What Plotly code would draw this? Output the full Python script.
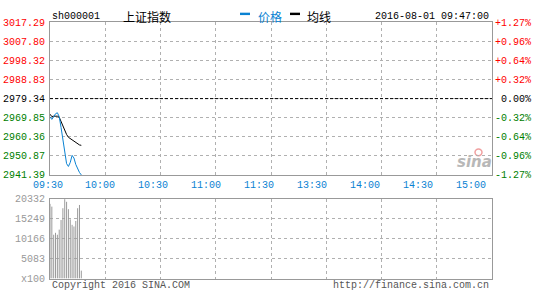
import plotly.graph_objects as go

# ---------------- data ----------------
prev_close = 2979.34
price_ticks = [3017.29, 3007.80, 2998.32, 2988.83, 2979.34, 2969.85, 2960.36, 2950.87, 2941.39]
pct_labels = ["+1.27%", "+0.96%", "+0.64%", "+0.32%", "\u00a00.00%", "-0.32%", "-0.64%", "-0.96%", "-1.27%"]
time_labels = ["09:30", "10:00", "10:30", "11:00", "11:30", "13:30", "14:00", "14:30", "15:00"]
vol_ticks = [20332, 15249, 10166, 5083, 0]
vol_tick_labels = ["20332", "15249", "10166", "5083", "x100"]

minutes = list(range(18))  # 09:30 .. 09:47
price = [2970.3, 2969.0, 2970.3, 2971.8, 2972.3, 2970.4, 2965.0, 2959.0, 2951.5, 2947.0,
         2945.6, 2947.6, 2951.1, 2949.8, 2946.6, 2944.5, 2942.6, 2941.4]
avg_line = [2971.6, 2970.4, 2970.6, 2970.6, 2970.6, 2970.1, 2967.7, 2965.4, 2963.2, 2961.5,
            2960.1, 2959.4, 2958.7, 2958.2, 2957.7, 2957.0, 2956.3, 2956.1]
volume = [19000, 18300, 11150, 11640, 11150, 12450, 14890, 17890, 20190, 19530,
          17650, 15060, 13670, 13250, 14650, 17890, 18720, 2030]
n_minutes = 241

# ---------------- styling ----------------
W, H = 545, 300
MONO = "Liberation Mono"
RED, GREEN, BLACK = "#ff0000", "#008000", "#000000"
BLUE = "#0a82d2"
GRID = "#b0b0b0"
BORDER = "#999999"

def px_x(p):
    return p / W

def px_y(p):
    return (H - p) / H

x_dom = [px_x(50), px_x(492)]
main_dom = [px_y(177), px_y(18)]
vol_dom = [px_y(285), px_y(201.7)]

def colored(txt, v):
    c = RED if v > prev_close + 1e-6 else (GREEN if v < prev_close - 1e-6 else BLACK)
    return f"<span style='color:{c}'>{txt}</span>"

price_text = [colored(f"{v:.2f}", v) for v in price_ticks]
pct_vals = [(v - prev_close) / prev_close * 100 for v in price_ticks]
pct_text = [colored(t, v) for t, v in zip(pct_labels, price_ticks)]

# volume drawn as thin vertical sticks
vx, vy = [], []
for m, v in zip(minutes, volume):
    vx += [m, m, None]
    vy += [0, v, None]

fig = go.Figure()
fig.add_trace(go.Scatter(x=minutes, y=avg_line, mode="lines", line=dict(color="black", width=1),
                         xaxis="x", yaxis="y", showlegend=False, hoverinfo="skip"))
fig.add_trace(go.Scatter(x=minutes, y=price, mode="lines", line=dict(color=BLUE, width=1),
                         xaxis="x", yaxis="y", showlegend=False, hoverinfo="skip"))
fig.add_trace(go.Scatter(x=vx, y=vy, mode="lines", line=dict(color="#9a9a9a", width=1),
                         connectgaps=False, xaxis="x2", yaxis="y3", showlegend=False, hoverinfo="skip"))

axis_common = dict(showgrid=True, griddash="dot", gridcolor=GRID, gridwidth=1, zeroline=False,
                   showline=True, linecolor=BORDER, linewidth=1, mirror=True, ticks="")

fig.update_layout(
    width=W, height=H, margin=dict(l=0, r=0, t=0, b=0),
    paper_bgcolor="white", plot_bgcolor="white",
    font=dict(family=MONO, size=10, color="black"),
    xaxis=dict(domain=x_dom, range=[0, n_minutes - 1], dtick=30, tick0=0,
               showticklabels=False, anchor="y", **axis_common),
    yaxis=dict(domain=main_dom, range=[price_ticks[-1], price_ticks[0]], tickvals=price_ticks,
               ticktext=price_text, anchor="x", ticklabelstandoff=2, **axis_common),
    yaxis2=dict(overlaying="y", side="right", anchor="x", range=[pct_vals[-1], pct_vals[0]],
                tickvals=pct_vals, ticktext=pct_text, showgrid=False, zeroline=False,
                showline=False, ticks="", ticklabelstandoff=2),
    xaxis2=dict(domain=x_dom, range=[0, n_minutes - 1], dtick=30, tick0=0,
                showticklabels=False, anchor="y3", **axis_common),
    yaxis3=dict(domain=vol_dom, range=[0, vol_ticks[0]], tickvals=vol_ticks, ticktext=vol_tick_labels,
                tickfont=dict(color="#999999"), anchor="x2", ticklabelstandoff=2, **axis_common),
)

# dummy trace to activate yaxis2
fig.add_trace(go.Scatter(x=[0], y=[0], mode="markers", marker=dict(opacity=0), xaxis="x", yaxis="y2",
                         showlegend=False, hoverinfo="skip"))

# previous close dashed line
fig.add_shape(type="line", xref="x domain", yref="y", x0=0, x1=1, y0=prev_close, y1=prev_close,
              line=dict(color="black", width=1, dash="3px,2px"))

# time labels (placed slightly left of grid lines, as in the original)
for k, lab in enumerate(time_labels):
    fig.add_annotation(text=lab, xref="paper", yref="paper", x=px_x(47.5 + 52.94 * k), y=px_y(188.5),
                       showarrow=False, font=dict(family=MONO, size=10, color=BLUE),
                       xanchor="center", yanchor="middle")

# header / footer
ann = [
    dict(text="sh000001", x=px_x(50), y=px_y(12), xanchor="left", font=dict(family=MONO, size=10, color="black")),
    dict(text="上证指数", x=px_x(121), y=px_y(12), xanchor="left",
         font=dict(family="Noto Sans CJK SC", size=12, color="black")),
    dict(text="价格", x=px_x(256), y=px_y(12), xanchor="left",
         font=dict(family="Noto Sans CJK SC", size=12, color=BLUE)),
    dict(text="均线", x=px_x(305), y=px_y(12), xanchor="left",
         font=dict(family="Noto Sans CJK SC", size=12, color="black")),
    dict(text="2016-08-01 09:47:00", x=px_x(491), y=px_y(12), xanchor="right",
         font=dict(family=MONO, size=10, color="black")),
    dict(text="Copyright 2016 SINA.COM", x=px_x(50), y=px_y(292.5), xanchor="left",
         font=dict(family=MONO, size=10, color="#555555")),
    dict(text="http://finance.sina.com.cn", x=px_x(491), y=px_y(292.5), xanchor="right",
         font=dict(family=MONO, size=10, color="#555555")),
    dict(text="<i><b>sina</b></i>", x=px_x(474), y=px_y(164), xanchor="center",
         font=dict(family="DejaVu Sans", size=15, color="#b8b8b8")),
]
for a in ann:
    fig.add_annotation(xref="paper", yref="paper", showarrow=False, yanchor="middle", **a)

# sina eye logo (small pale red circle)
fig.add_shape(type="circle", xref="paper", yref="paper", x0=px_x(475), x1=px_x(482), y0=px_y(157), y1=px_y(150),
              fillcolor="rgba(0,0,0,0)", line=dict(color="#f0a0a0", width=1.5), layer="below")

# legend swatches
fig.add_shape(type="rect", xref="paper", yref="paper", x0=px_x(240), x1=px_x(250), y0=px_y(10.5), y1=px_y(8),
              fillcolor=BLUE, line=dict(width=0))
fig.add_shape(type="rect", xref="paper", yref="paper", x0=px_x(290), x1=px_x(300), y0=px_y(10.5), y1=px_y(8),
              fillcolor="black", line=dict(width=0))

fig.write_html("out.html", config={"displayModeBar": False})
